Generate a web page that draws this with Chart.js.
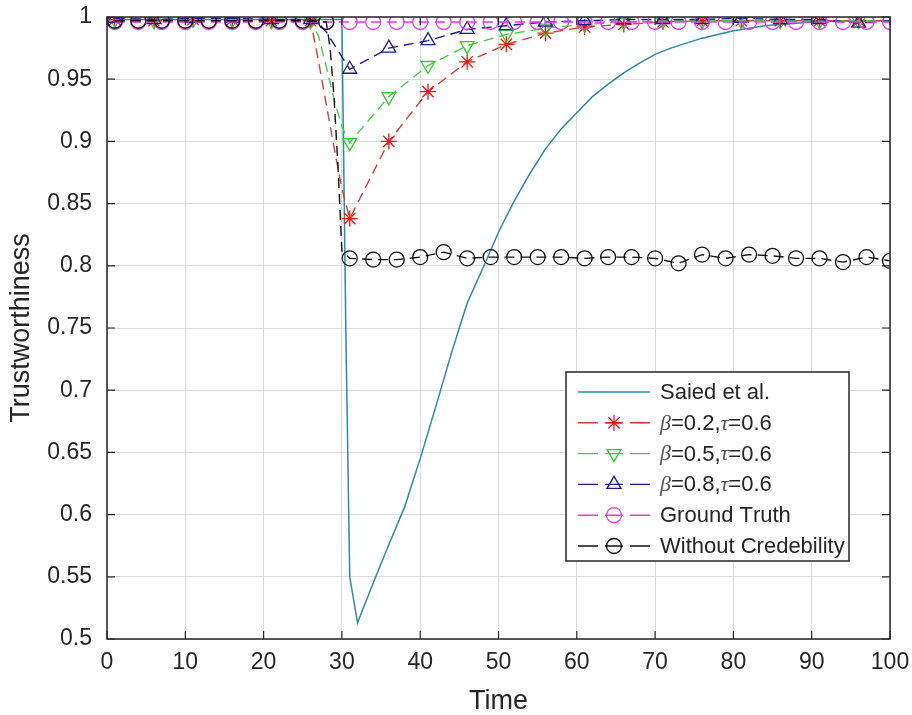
<!DOCTYPE html>
<html>
<head>
<meta charset="utf-8">
<script src="https://cdn.jsdelivr.net/npm/chart.js@4.4.1/dist/chart.umd.min.js"></script>
<style>
  html, body { margin: 0; padding: 0; background: #fff; }
  #wrap { width: 912px; height: 715px; position: relative; }
</style>
</head>
<body>
<div id="wrap"><canvas id="trustChart"></canvas></div>
<script>
const xTicks = [0, 10, 20, 30, 40, 50, 60, 70, 80, 90, 100];
const yTicks = [0.5, 0.55, 0.6, 0.65, 0.7, 0.75, 0.8, 0.85, 0.9, 0.95, 1];

const seriesNames = ['Saied et al.', 'β=0.2,τ=0.6', 'β=0.5,τ=0.6', 'β=0.8,τ=0.6', 'Ground Truth', 'Without Credebility'];

// Saied et al. (solid, no markers)
const saiedTime = [1, 5, 10, 15, 20, 25, 30, 30.5, 31, 32, 34, 36, 38, 40, 42, 44, 46, 48, 50, 52, 54, 56, 58, 60,
  62, 64, 66, 68, 70, 72, 74, 76, 78, 80, 82, 84, 86, 88, 90, 95, 100];
const saiedValue = [0.998, 0.998, 0.998, 0.998, 0.998, 0.998, 0.998, 0.75, 0.55, 0.513, 0.545, 0.576, 0.606, 0.645,
  0.687, 0.730, 0.770, 0.798, 0.827, 0.852, 0.874, 0.894, 0.910, 0.923, 0.936, 0.946, 0.955, 0.963, 0.970, 0.975,
  0.979, 0.983, 0.986, 0.989, 0.991, 0.993, 0.994, 0.995, 0.996, 0.997, 0.997];

// beta series share the same sample times (markers every 5)
const betaTime = [1, 6, 11, 16, 21, 26, 27, 28, 29, 30, 31, 36, 41, 46, 51, 56, 61, 66, 71, 76, 81, 86, 91, 96, 100];
const beta02Value = [0.998, 0.997, 0.998, 0.998, 0.997, 0.997, 0.965, 0.930, 0.895, 0.862, 0.838, 0.900, 0.940,
  0.964, 0.978, 0.987, 0.992, 0.994, 0.996, 0.997, 0.997, 0.997, 0.997, 0.997, 0.997];
const beta05Value = [0.998, 0.997, 0.998, 0.998, 0.997, 0.997, 0.985, 0.960, 0.934, 0.912, 0.899, 0.936, 0.961,
  0.977, 0.986, 0.991, 0.994, 0.996, 0.997, 0.997, 0.997, 0.997, 0.997, 0.997, 0.997];
const beta08Value = [0.999, 0.998, 0.999, 0.999, 0.998, 0.998, 0.995, 0.988, 0.978, 0.968, 0.958, 0.975, 0.981,
  0.990, 0.993, 0.996, 0.997, 0.998, 0.998, 0.998, 0.999, 0.998, 0.998, 0.995, 0.997];

// ground truth, markers every 3
const truthTime = [1, 4, 7, 10, 13, 16, 19, 22, 25, 28, 31, 34, 37, 40, 43, 46, 49, 52, 55, 58, 61, 64, 67, 70,
  73, 76, 79, 82, 85, 88, 91, 94, 97, 100];
const truthValue = [0.996, 0.996, 0.996, 0.996, 0.996, 0.996, 0.996, 0.996, 0.996, 0.996, 0.996, 0.996, 0.996,
  0.996, 0.996, 0.996, 0.996, 0.996, 0.996, 0.996, 0.996, 0.996, 0.996, 0.996, 0.996, 0.996, 0.996, 0.996, 0.996,
  0.996, 0.996, 0.996, 0.996, 0.996];

// without credibility, markers every 3
const noCredTime = [1, 4, 7, 10, 13, 16, 19, 22, 25, 28, 28.5, 29, 29.5, 30, 31, 34, 37, 40, 43, 46, 49, 52, 55, 58,
  61, 64, 67, 70, 73, 76, 79, 82, 85, 88, 91, 94, 97, 100];
const noCredValue = [0.997, 0.997, 0.997, 0.997, 0.997, 0.997, 0.997, 0.997, 0.997, 0.996, 0.975, 0.935, 0.880,
  0.812, 0.806, 0.805, 0.805, 0.807, 0.811, 0.806, 0.807, 0.807, 0.807, 0.807, 0.806, 0.807, 0.807, 0.806, 0.802,
  0.809, 0.806, 0.809, 0.808, 0.806, 0.806, 0.803, 0.807, 0.804];

const FONT = '"Liberation Sans", Arial, sans-serif';
const INK = '#262626';

function points(times, values) {
  return times.map((t, i) => ({ x: t, y: values[i] }));
}

function markEvery(step, r) {
  return (c) => (c.raw && (c.raw.x - 1) % step === 0) ? r : 0;
}

const dashed = [10, 6];

const datasets = [
  { label: seriesNames[0], data: points(saiedTime, saiedValue), borderColor: '#2a8c9e', borderWidth: 1.5,
    pointRadius: 0, pointStyle: false },
  { label: seriesNames[1], data: points(betaTime, beta02Value), borderColor: '#c8433a', borderWidth: 1.4,
    borderDash: dashed, pointStyle: 'star', pointRadius: markEvery(5, 8), pointBorderColor: '#ff1010',
    pointBorderWidth: 1.3 },
  { label: seriesNames[2], data: points(betaTime, beta05Value), borderColor: '#3fd03f', borderWidth: 1.4,
    borderDash: dashed, pointStyle: 'triangle', pointRotation: 180, pointRadius: markEvery(5, 8),
    pointBorderColor: '#2ecc2e', pointBorderWidth: 1.3 },
  { label: seriesNames[3], data: points(betaTime, beta08Value), borderColor: '#1c1c9a', borderWidth: 1.4,
    borderDash: dashed, pointStyle: 'triangle', pointRadius: markEvery(5, 8), pointBorderColor: '#1c1c9a',
    pointBorderWidth: 1.3 },
  { label: seriesNames[4], data: points(truthTime, truthValue), borderColor: '#ee33ee', borderWidth: 1.4,
    borderDash: dashed, pointStyle: 'circle', pointRadius: markEvery(3, 7.5), pointBorderColor: '#e83ae8',
    pointBorderWidth: 1.3 },
  { label: seriesNames[5], data: points(noCredTime, noCredValue), borderColor: '#111', borderWidth: 1.4,
    borderDash: dashed, pointStyle: 'circle', pointRadius: markEvery(3, 7.5), pointBorderColor: '#111',
    pointBorderWidth: 1.3 }
];
datasets.forEach((d, i) => {
  d.order = datasets.length - i;
  d.fill = false;
  d.tension = 0;
  d.pointBackgroundColor = 'rgba(0,0,0,0)';
  d.pointHoverRadius = 0;
});

// MATLAB-like box with inward ticks
const axesBox = {
  id: 'axesBox',
  afterDatasetsDraw(chart) {
    const { ctx, chartArea: a, scales } = chart;
    ctx.save();
    ctx.strokeStyle = INK;
    ctx.lineWidth = 1.5;
    ctx.strokeRect(a.left, a.top, a.right - a.left, a.bottom - a.top);
    ctx.lineWidth = 1.2;
    ctx.beginPath();
    xTicks.forEach(v => {
      const px = scales.x.getPixelForValue(v);
      ctx.moveTo(px, a.bottom); ctx.lineTo(px, a.bottom - 8);
      ctx.moveTo(px, a.top); ctx.lineTo(px, a.top + 8);
    });
    yTicks.forEach(v => {
      const py = scales.y.getPixelForValue(v);
      ctx.moveTo(a.left, py); ctx.lineTo(a.left + 8, py);
      ctx.moveTo(a.right, py); ctx.lineTo(a.right - 8, py);
    });
    ctx.stroke();
    ctx.restore();
  }
};

// legend box drawn inside the axes (lower right)
const boxLegend = {
  id: 'boxLegend',
  afterDraw(chart) {
    const { ctx, chartArea: a } = chart;
    const right = a.right - 41, bottom = a.bottom - 78;
    const left = right - 283, top = bottom - 189;
    ctx.save();
    ctx.fillStyle = '#fff';
    ctx.fillRect(left, top, right - left, bottom - top);
    ctx.strokeStyle = INK;
    ctx.lineWidth = 1.5;
    ctx.strokeRect(left, top, right - left, bottom - top);

    chart.data.datasets.forEach((ds, i) => {
      const y = top + 20 + i * 30.8;
      const x0 = left + 12, x1 = left + 84, xm = (x0 + x1) / 2;
      ctx.strokeStyle = ds.borderColor;
      ctx.lineWidth = 1.4;
      ctx.beginPath();
      if (ds.borderDash) {
        ctx.moveTo(x0, y); ctx.lineTo(x0 + 20, y);
        ctx.moveTo(xm - 9, y); ctx.lineTo(xm + 9, y);
        ctx.moveTo(x1 - 20, y); ctx.lineTo(x1, y);
      } else {
        ctx.moveTo(x0, y); ctx.lineTo(x1, y);
      }
      ctx.stroke();
      if (ds.pointStyle) {
        ctx.strokeStyle = ds.pointBorderColor;
        ctx.fillStyle = 'rgba(0,0,0,0)';
        ctx.lineWidth = 1.3;
        Chart.helpers.drawPoint(ctx, {
          pointStyle: ds.pointStyle, rotation: ds.pointRotation || 0,
          radius: ds.pointStyle === 'circle' ? 7.5 : 8, borderWidth: 1.3
        }, xm, y);
      }
      // text, greek letters in italic
      let tx = left + 94;
      ctx.textBaseline = 'middle';
      for (const ch of ds.label) {
        const greek = /[βτ]/.test(ch);
        ctx.font = greek ? 'italic 22px "Liberation Serif", serif' : '22px ' + FONT;
        ctx.fillStyle = greek ? '#555' : INK;
        ctx.fillText(ch, tx, y + 1);
        tx += ctx.measureText(ch).width;
      }
    });
    ctx.restore();
  }
};

new Chart(document.getElementById('trustChart'), {
  type: 'line',
  data: { datasets },
  options: {
    responsive: true,
    maintainAspectRatio: false,
    animation: false,
    events: [],
    layout: { padding: { left: 0, right: 22, top: 17, bottom: 0 } },
    scales: {
      x: {
        type: 'linear',
        min: 0,
        max: 100,
        afterFit: (s) => { s.height = 76; s.paddingLeft = 0; s.paddingRight = 0; },
        afterBuildTicks: (s) => { s.ticks = xTicks.map(v => ({ value: v })); },
        grid: { color: '#dcdcdc', drawTicks: false, lineWidth: 1 },
        border: { display: false },
        ticks: { padding: 10, color: INK, font: { family: FONT, size: 23 } },
        title: {
          display: true, text: 'Time', color: INK,
          font: { family: FONT, size: 27, lineHeight: 1 }, padding: { top: 0, bottom: 0 }
        }
      },
      y: {
        min: 0.5,
        max: 1,
        afterFit: (s) => { s.width = 107; s.paddingTop = 0; s.paddingBottom = 0; },
        afterBuildTicks: (s) => { s.ticks = yTicks.map(v => ({ value: v })); },
        grid: { color: '#dcdcdc', drawTicks: false, lineWidth: 1 },
        border: { display: false },
        ticks: {
          padding: 15, color: INK, font: { family: FONT, size: 23 },
          callback: (v) => String(parseFloat(Number(v).toFixed(2)))
        },
        title: {
          display: true, text: 'Trustworthiness', color: INK,
          font: { family: FONT, size: 27, lineHeight: 1 }, padding: { top: 8, bottom: 0 }
        }
      }
    },
    plugins: {
      legend: { display: false },
      tooltip: { enabled: false }
    }
  },
  plugins: [axesBox, boxLegend]
});
</script>
</body>
</html>
